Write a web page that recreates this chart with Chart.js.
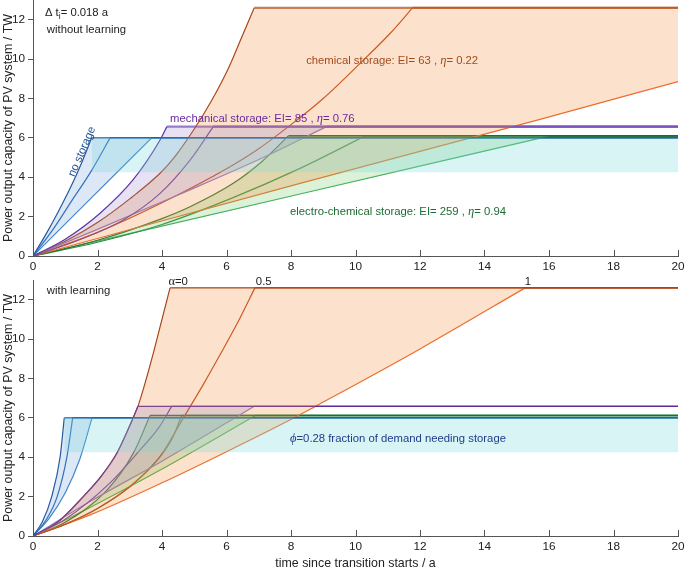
<!DOCTYPE html>
<html><head><meta charset="utf-8">
<script src="https://cdn.jsdelivr.net/npm/chart.js@4.4.1/dist/chart.umd.min.js"></script>
<style>
html,body{margin:0;padding:0;background:#fff;width:685px;height:571px;overflow:hidden}
#c1{position:absolute;left:0;top:0}
#c2{position:absolute;left:0;top:270px}
</style></head><body>
<canvas id="c1" width="685" height="275"></canvas>
<canvas id="c2" width="685" height="301"></canvas>
<script>
// ---------------- data ----------------
const xTickValues = [0,2,4,6,8,10,12,14,16,18,20];
const yTickValues = [0,2,4,6,8,10,12];
const bandLow = 4.25;               // lower edge of the phi band (TW)

// plateau levels (TW): no storage, mechanical, chemical, electro-chemical
const topLevels    = [6, 6.57, 12.6, 6.1];
const bottomLevels = [6, 6.58, 12.6, 6.12];

// ---- without learning (alpha = 0, 0.5, 1) ----
const topNoStorage = [
  [[0,0],[0.4,1.1],[0.8,2.3],[1.2,3.6],[1.5,4.7],[1.82,6]],
  [[0,0],[0.6,1.3],[1.2,2.8],[1.8,4.3],[2.39,6]],
  [[0,0],[1.84,3],[3.68,6]]
];
const topMechanical = [
  [[0,0],[1,0.85],[2.08,2.17],[3.1,3.86],[3.94,5.89],[4.15,6.57]],
  [[0,0],[1.4,0.8],[2.8,1.83],[3.94,3.18],[4.87,4.87],[5.59,6.57]],
  [[0,0],[2,1.35],[4.5,3.1],[7.14,5.0],[9.1,6.57]]
];
const topChemical = [
  [[0,0],[1,0.75],[2,1.7],[3,2.9],[3.94,4.2],[4.4,5.05],[5,6.45],[5.54,7.9],[6.05,9.5],[6.42,10.9],[6.86,12.6]],
  [[0,0],[2,1.2],[4,2.7],[6.11,4.53],[6.94,5.38],[7.92,6.57],[9,8.0],[10.14,9.78],[11.07,11.3],[11.77,12.6]],
  [[0,0],[8.28,3.69],[15.72,6.94],[20,8.86]]
];
const topElectro = [
  [[0,0],[2,0.8],[4,1.9],[4.87,2.5],[6.21,3.69],[7.1,4.8],[7.92,6.1]],
  [[0,0],[2,0.7],[4,1.6],[6.11,2.9],[8.28,4.45],[10.3,6.1]],
  [[0,0],[8.28,3.15],[16.03,6.1]]
];

// ---- with learning (alpha = 0, 0.5, 1) ----
const botNoStorage = [
  [[0,0],[0.3,0.75],[0.58,2.0],[0.84,4.0],[0.97,6]],
  [[0,0],[0.4,0.8],[0.75,2.0],[1.05,4.0],[1.23,6]],
  [[0,0],[0.5,0.9],[1.0,2.2],[1.45,3.9],[1.83,6]]
];
const botMechanical = [
  [[0,0],[0.8,0.75],[1.56,2.0],[2.1,3.0],[2.6,4.2],[3.0,5.6],[3.25,6.58]],
  [[0,0],[1,0.85],[2.39,2.7],[3.32,4.37],[3.9,5.5],[4.3,6.58]],
  [[0,0],[1.77,1.75],[4,3.8],[6.85,6.58]]
];
const botChemical = [
  [[0,0],[0.8,0.75],[1.56,2.0],[2.1,3.0],[2.6,4.2],[3.0,5.6],[3.27,6.66],[3.5,7.9],[3.75,9.4],[4.0,11.0],[4.25,12.6]],
  [[0,0],[1,0.6],[2,1.4],[3,2.5],[3.9,3.95],[4.7,6.1],[5.3,7.75],[5.8,9.2],[6.35,10.85],[6.88,12.6]],
  [[0,0],[1.77,1.07],[4,2.7],[6.11,4.37],[8.07,5.98],[8.74,6.57],[12,9.5],[15.26,12.6]]
];
const botElectro = [
  [[0,0],[1,0.7],[2.28,2.3],[3.11,4.2],[3.63,6.12]],
  [[0,0],[1,0.6],[2,1.4],[3,2.5],[3.9,3.95],[4.3,4.9],[4.61,6.12]],
  [[0,0],[1.77,1.45],[4,3.4],[6.9,6.12]]
];

// ---------------- styling ----------------
const FONT = "'Liberation Sans', Arial, Helvetica, sans-serif";
const SERIF = "'Liberation Serif', 'Times New Roman', serif";
const ANN = 11.3;
const bandFill = 'rgba(120,215,220,0.28)';
const styles = [
  {colors:['#1d4f96','#2766b0','#3b86cc'], fill:'rgba(100,150,220,0.22)'},
  {colors:['#5b2a9c','#6b40b0','#8e78c8'], fill:'rgba(130,110,200,0.2)'},
  {colors:['#9c3d18','#c2481c','#ec6a2c'], fill:'rgba(245,140,50,0.25)'},
  {colors:['#1f6a35','#2b8a45','#3fae5c'], fill:'rgba(110,200,100,0.25)'}
];

function pts(a){ return a.map(p=>({x:p[0], y:p[1]})); }

function buildDatasets(curveSets, levels, plateauWidths, plateauColors){
  const ds = [];
  const first = curveSets[0][0];
  const bx = first[first.length-1][0];
  ds.push({data:pts([[bx,levels[0]],[20,levels[0]]]), borderWidth:0, pointRadius:0, fill:false, tension:0});
  ds.push({data:pts([[bx,bandLow],[20,bandLow]]), borderWidth:0, pointRadius:0, fill:'-1', backgroundColor:bandFill, tension:0});
  curveSets.forEach((curves,g)=>{
    const up = curves[0].concat([[20,levels[g]]]);
    const lc = curves[2];
    const low = lc[lc.length-1][0] < 20 ? lc.concat([[20,levels[g]]]) : lc;
    ds.push({data:pts(up), borderWidth:0, pointRadius:0, fill:false, tension:0});
    ds.push({data:pts(low), borderWidth:0, pointRadius:0, fill:'-1', backgroundColor:styles[g].fill, tension:0});
  });
  curveSets.forEach((curves,g)=>{
    curves.forEach((c,i)=>{
      ds.push({data:pts(c), borderColor:styles[g].colors[i], borderWidth:1.2, pointRadius:0, fill:false, cubicInterpolationMode:'monotone'});
      const last = c[c.length-1];
      if (last[0] < 20) {
        ds.push({data:pts([last,[20,levels[g]]]), borderColor:(plateauColors[g]&&plateauColors[g][i])||styles[g].colors[i],
                 borderWidth:plateauWidths[g], pointRadius:0, fill:false, tension:0});
      }
    });
  });
  return ds;
}

const annotPlugin = {
  id:'annot',
  afterDatasetsDraw(chart, args, opts){
    const ctx = chart.ctx, xs = chart.scales.x, ys = chart.scales.y;
    (opts.items||[]).forEach(it=>{
      ctx.save();
      ctx.translate(xs.getPixelForValue(it.x), ys.getPixelForValue(it.y));
      if (it.rot) ctx.rotate(it.rot*Math.PI/180);
      ctx.fillStyle = it.color; ctx.textBaseline = 'middle'; ctx.textAlign = 'left';
      const fontOf = p => (p.italic?'italic ':'') + (p.size||it.size) + 'px ' + (p.family||FONT);
      let w = 0;
      it.parts.forEach(p=>{ ctx.font = fontOf(p); w += ctx.measureText(p.t).width; });
      let cx = it.center ? -w/2 : 0;
      it.parts.forEach(p=>{ ctx.font = fontOf(p); ctx.fillText(p.t, cx, p.dy||0); cx += ctx.measureText(p.t).width; });
      ctx.restore();
    });
  }
};

const inwardTicks = {
  id:'inwardTicks',
  afterDraw(chart){
    const ctx = chart.ctx, xs = chart.scales.x, y0 = chart.chartArea.bottom;
    ctx.save(); ctx.strokeStyle = '#555'; ctx.lineWidth = 1;
    xTickValues.forEach(v=>{
      const px = Math.round(xs.getPixelForValue(v)) + 0.5;
      ctx.beginPath(); ctx.moveTo(px, y0); ctx.lineTo(px, y0-6); ctx.stroke();
    });
    ctx.restore();
  }
};

function makeChart(id, datasets, o){
  return new Chart(document.getElementById(id), {
    type:'line',
    data:{datasets},
    options:{
      responsive:false, animation:false, devicePixelRatio:1,
      layout:{padding:o.padding},
      plugins:{legend:{display:false}, tooltip:{enabled:false}, annot:{items:o.items}},
      scales:{
        x:{type:'linear', min:0, max:20,
           afterBuildTicks:s=>{ s.ticks = xTickValues.map(v=>({value:v})); },
           ticks:{font:{size:11.8, family:FONT}, color:'#222', padding:o.xPad, maxRotation:0, autoSkip:false},
           grid:{display:false, drawTicks:false},
           border:{display:true, color:'#555', width:1},
           title:{display:!!o.xTitle, text:o.xTitle||'', font:{size:12.4, family:FONT}, color:'#222', padding:{top:0,bottom:0}},
           afterFit:s=>{ s.height = o.xHeight; s.paddingLeft = 0; s.paddingRight = 0; }},
        y:{type:'linear', min:0, max:13,
           afterBuildTicks:s=>{ s.ticks = yTickValues.map(v=>({value:v})); },
           ticks:{font:{size:11.8, family:FONT}, color:'#222', padding:3},
           grid:{display:true, drawOnChartArea:false, drawTicks:true, tickLength:5, color:'#555'},
           border:{display:true, color:'#555', width:1},
           title:{display:true, text:'Power output capacity of PV system / TW', font:{size:12.4, family:FONT}, color:'#222', padding:{top:1.5,bottom:0}},
           afterFit:s=>{ s.width = 33; s.paddingTop = 0; s.paddingBottom = 0; }}
      }
    },
    plugins:[annotPlugin, inwardTicks]
  });
}

const topItems = [
  {x:0.37, y:12.34, size:ANN, color:'#222', parts:[{t:'Δ t'},{t:'i', size:8.5, dy:4},{t:'= 0.018 a'}]},
  {x:0.43, y:11.47, size:ANN, color:'#222', parts:[{t:'without learning'}]},
  {x:1.52, y:5.3, size:ANN, color:'#1d4f96', rot:-66.5, center:true, parts:[{t:'no storage'}]},
  {x:4.25, y:6.95, size:ANN, color:'#6a2b9f', parts:[{t:'mechanical storage: EI= 85 , '},{t:'η', italic:true, family:SERIF, size:12.5},{t:'= 0.76'}]},
  {x:8.47, y:9.9, size:ANN, color:'#a34a1c', parts:[{t:'chemical storage: EI= 63 , '},{t:'η', italic:true, family:SERIF, size:12.5},{t:'= 0.22'}]},
  {x:7.97, y:2.23, size:ANN, color:'#1d6b35', parts:[{t:'electro-chemical storage: EI= 259 , '},{t:'η', italic:true, family:SERIF, size:12.5},{t:'= 0.94'}]}
];
const botItems = [
  {x:0.43, y:12.46, size:ANN, color:'#222', parts:[{t:'with learning'}]},
  {x:4.2, y:12.9, size:ANN, color:'#222', parts:[{t:'α', family:SERIF, size:12.5},{t:'=0'}]},
  {x:6.91, y:12.9, size:ANN, color:'#222', parts:[{t:'0.5'}]},
  {x:15.25, y:12.9, size:ANN, color:'#222', parts:[{t:'1'}]},
  {x:7.97, y:4.93, size:ANN, color:'#1f3d8a', parts:[{t:'ϕ', italic:true, family:SERIF, size:12.5},{t:'=0.28 fraction of demand needing storage'}]}
];

makeChart('c1',
  buildDatasets([topNoStorage, topMechanical, topChemical, topElectro], topLevels,
    [1.4, 2.4, 2.4, 1.6],
    [null, ['rgba(120,80,190,0.75)','rgba(120,80,190,0.75)','rgba(150,125,210,0.9)'], ['rgba(170,80,40,0.75)','rgba(190,85,40,0.7)'], null]),
  {padding:{top:0,right:7,left:0,bottom:0}, xPad:4, xHeight:19, items:topItems});

makeChart('c2',
  buildDatasets([botNoStorage, botMechanical, botChemical, botElectro], bottomLevels,
    [1.2, 1.3, 1.3, 1.3], [null, null, null, null]),
  {padding:{top:10,right:7,left:0,bottom:0}, xPad:4, xHeight:35, xTitle:'time since transition starts / a', items:botItems});
</script>
</body></html>
